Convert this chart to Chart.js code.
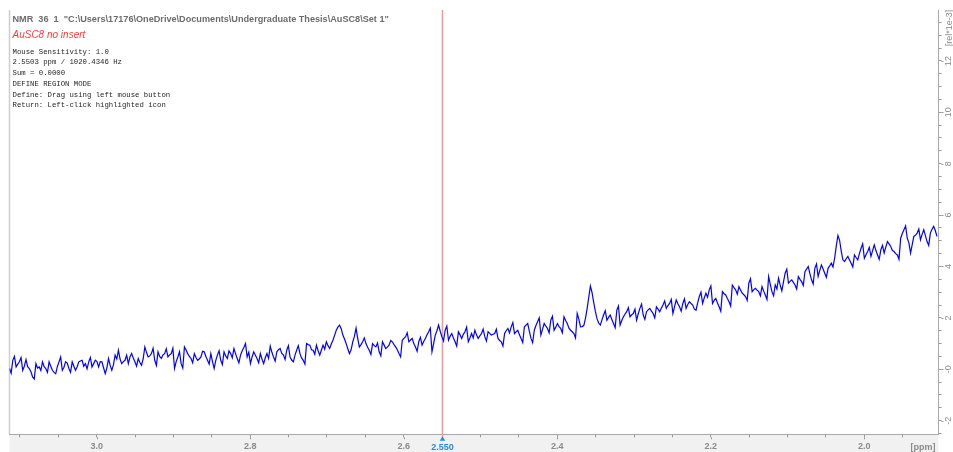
<!DOCTYPE html>
<html>
<head>
<meta charset="utf-8">
<script src="https://cdn.jsdelivr.net/npm/chart.js@4.4.1/dist/chart.umd.min.js"></script>
<style>
  html, body { margin: 0; padding: 0; background: #ffffff; overflow: hidden; }
  canvas { display: block; }
</style>
</head>
<body>
<canvas id="spec" width="953" height="452"></canvas>
<script>
// 1H spectrum slice, chemical shift axis in ppm (high to low, left to right)
const ppmStart = 3.1136;
const ppmStep = 0.00215;

// Intensity in units of rel*1e-3, one value per ppm step
const intensity = [
  0.03, -0.15, 0.35, 0.50, 0.09, 0.20, 0.29, 0.45, -0.04, 0.12, 0.38, 0.10, 0.03, -0.10, -0.30, -0.38, 0.22, 0.05, 0.09, -0.05,
  0.29, 0.10, 0.03, -0.12, 0.29, 0.12, -0.04, -0.12, -0.17, 0.10, 0.29, 0.48, -0.04, 0.08, 0.29, 0.24, 0.03, -0.12, 0.29, 0.12,
  -0.04, 0.10, 0.29, 0.32, 0.35, 0.12, 0.22, 0.02, 0.29, 0.46, 0.09, 0.22, 0.35, 0.30, 0.09, 0.30, 0.29, 0.06, -0.17, 0.05,
  0.42, 0.15, -0.04, 0.18, 0.55, 0.40, 0.74, 0.40, 0.22, 0.30, 0.35, 0.55, 0.22, 0.48, 0.61, 0.44, 0.29, 0.12, 0.42, 0.26,
  0.16, 0.40, 0.87, 0.66, 0.48, 0.52, 0.61, 0.82, 0.35, 0.15, 0.68, 0.50, 0.42, 0.56, 0.61, 0.80, 0.48, 0.56, 0.61, 0.82,
  0.03, 0.30, 0.48, 0.68, 0.22, 0.05, 0.87, 0.75, 0.61, 0.50, 0.42, 0.25, 0.61, 0.46, 0.35, 0.40, 0.48, 0.70, 0.68, 0.50,
  0.35, 0.20, 0.61, 0.30, 0.03, 0.35, 0.55, 0.72, 0.35, 0.18, 0.68, 0.52, 0.42, 0.72, 0.61, 0.45, 0.81, 0.60, 0.42, 0.25,
  0.55, 0.72, 0.85, 1.00, 0.48, 0.66, 0.22, 0.48, 0.68, 0.55, 0.42, 0.25, 0.61, 0.40, 0.22, 0.45, 0.61, 0.42, 0.90, 0.66,
  0.48, 0.32, 0.68, 0.76, 0.81, 0.62, 0.55, 0.38, 0.74, 0.92, 0.48, 0.36, 0.29, 0.55, 0.74, 0.92, 0.61, 0.44, 0.35, 0.20,
  1.00, 0.96, 0.94, 0.76, 0.74, 0.58, 0.94, 0.72, 0.55, 0.75, 0.94, 0.78, 1.07, 0.92, 0.81, 0.98, 1.13, 1.32, 1.52, 1.64,
  1.72, 1.58, 1.33, 1.18, 1.00, 0.80, 0.61, 0.76, 1.07, 1.28, 1.60, 1.20, 0.87, 0.96, 1.07, 1.22, 1.00, 0.86, 0.74, 0.58,
  1.00, 0.92, 0.87, 1.02, 0.68, 0.52, 1.07, 0.94, 0.81, 0.86, 0.94, 1.12, 1.07, 0.96, 0.87, 0.76, 0.61, 0.48, 1.13, 1.20,
  1.27, 1.42, 1.07, 1.14, 1.20, 1.00, 0.87, 0.70, 1.07, 1.24, 0.94, 1.08, 1.20, 1.34, 1.46, 1.60, 0.68, 1.00, 1.33, 1.50,
  1.72, 1.48, 1.27, 1.10, 1.52, 1.68, 1.13, 1.28, 1.39, 1.22, 1.07, 0.90, 1.46, 1.34, 1.20, 1.36, 1.46, 1.64, 1.07, 1.22,
  1.39, 1.22, 1.52, 1.34, 1.20, 1.30, 1.39, 1.56, 1.27, 1.10, 1.46, 1.40, 1.33, 1.36, 1.39, 1.56, 1.20, 1.12, 1.07, 0.90,
  1.39, 1.50, 1.59, 1.42, 1.65, 1.82, 1.39, 1.46, 1.52, 1.34, 1.20, 1.04, 1.65, 1.72, 1.78, 1.48, 1.20, 1.04, 1.52, 1.70,
  1.85, 2.00, 1.33, 1.56, 1.78, 1.68, 1.59, 1.42, 1.91, 2.06, 1.52, 1.64, 1.78, 1.66, 1.59, 1.42, 2.04, 1.90, 1.78, 1.60,
  1.52, 1.46, 1.39, 1.22, 2.17, 1.95, 1.65, 1.66, 1.70, 1.98, 2.35, 2.80, 3.24, 2.98, 2.60, 2.25, 1.97, 1.80, 1.72, 1.92,
  2.11, 2.28, 1.91, 2.02, 2.11, 1.94, 1.78, 1.62, 2.30, 2.46, 1.72, 1.90, 2.04, 2.15, 2.24, 2.40, 2.04, 2.12, 2.17, 2.34,
  1.91, 2.16, 2.37, 2.54, 2.11, 1.94, 2.24, 2.31, 2.37, 2.26, 2.17, 2.00, 2.43, 2.34, 2.24, 2.38, 2.50, 2.66, 2.37, 2.48,
  2.56, 2.72, 2.17, 2.44, 2.70, 2.55, 2.43, 2.26, 2.56, 2.74, 2.37, 2.52, 2.63, 2.56, 2.50, 2.34, 2.30, 2.58, 2.83, 3.00,
  2.56, 2.78, 2.96, 2.80, 3.09, 3.24, 2.56, 2.68, 2.76, 2.58, 2.43, 2.26, 3.02, 2.94, 2.89, 2.75, 2.63, 2.46, 3.28, 3.18,
  3.09, 2.92, 3.22, 3.08, 2.96, 2.90, 2.83, 2.68, 3.35, 3.52, 3.02, 3.10, 3.15, 3.08, 3.02, 2.86, 3.22, 3.04, 2.89, 2.72,
  3.61, 3.30, 3.02, 2.86, 3.28, 3.12, 3.55, 3.28, 3.05, 3.40, 3.74, 3.90, 3.35, 3.42, 3.48, 3.38, 3.28, 3.12, 3.61, 3.50,
  3.41, 3.26, 3.80, 3.90, 4.00, 3.72, 3.48, 3.32, 3.93, 4.10, 3.61, 3.85, 4.06, 3.90, 3.74, 3.58, 3.93, 4.02, 4.13, 3.98,
  4.32, 4.80, 5.21, 5.02, 4.60, 4.26, 4.19, 4.30, 4.39, 4.25, 4.13, 3.98, 4.45, 4.35, 4.26, 4.50, 4.71, 4.88, 4.32, 4.46,
  4.58, 4.74, 4.39, 4.62, 4.84, 4.62, 4.45, 4.28, 4.65, 4.82, 4.52, 4.75, 4.97, 4.88, 4.78, 4.62, 4.58, 4.50, 4.45, 4.28,
  5.10, 5.28, 5.43, 5.58, 5.10, 4.92, 4.52, 4.85, 5.17, 5.22, 5.30, 5.46, 5.04, 5.25, 5.43, 5.20, 4.97, 4.82, 5.30, 5.45,
  5.56, 5.40, 5.17
];

// Visible window
const ppmRange = [1.9033, 3.1136];
const relRange = [-2.53, 13.98];

// Cursor position
const cursorPpm = 2.5503;
const cursorLabel = '2.550';

// Header / status text
const titleText = 'NMR  36  1  "C:\\Users\\17176\\OneDrive\\Documents\\Undergraduate Thesis\\AuSC8\\Set 1"';
const sampleText = 'AuSC8 no insert';
const statusLines = [
  'Mouse Sensitivity: 1.0',
  '2.5503 ppm / 1020.4346 Hz',
  'Sum = 0.0000',
  'DEFINE REGION MODE',
  'Define: Drag using left mouse button',
  'Return: Left-click highlighted icon'
];
const xUnit = '[ppm]';
const yUnit = '[rel*1e-3]';

const points = intensity.map((v, i) => ({ x: +(ppmStart - i * ppmStep).toFixed(5), y: v }));

const axisGrey = '#8a8a8a';

// Grey strip under the plot and the left frame line
const framePlugin = {
  id: 'frame',
  beforeDraw(chart) {
    const { ctx, chartArea: a } = chart;
    ctx.save();
    ctx.fillStyle = '#f1f1f1';
    ctx.fillRect(a.left, a.bottom, a.right - a.left, chart.height - a.bottom);
    ctx.strokeStyle = '#cdcdcd';
    ctx.lineWidth = 1.5;
    ctx.beginPath();
    ctx.moveTo(a.left, a.top);
    ctx.lineTo(a.left, a.bottom);
    ctx.stroke();
    ctx.restore();
  }
};

// Vertical cursor with its marker and value on the ppm axis
const cursorPlugin = {
  id: 'cursor',
  beforeDatasetsDraw(chart) {
    const { ctx, chartArea: a, scales } = chart;
    const x = Math.round(scales.x.getPixelForValue(cursorPpm)) + 0.5;
    ctx.save();
    ctx.strokeStyle = '#f29a9a';
    ctx.lineWidth = 1.6;
    ctx.beginPath();
    ctx.moveTo(x, a.top);
    ctx.lineTo(x, a.bottom + 3);
    ctx.stroke();
    ctx.restore();
  },
  afterDraw(chart) {
    const { ctx, chartArea: a, scales } = chart;
    const x = Math.round(scales.x.getPixelForValue(cursorPpm)) + 0.5;
    ctx.save();
    ctx.fillStyle = '#2a8ad6';
    ctx.beginPath();
    ctx.moveTo(x, a.bottom + 2);
    ctx.lineTo(x + 2.8, a.bottom + 6.5);
    ctx.lineTo(x - 2.8, a.bottom + 6.5);
    ctx.closePath();
    ctx.fill();
    ctx.font = 'bold 9px "Liberation Sans", Arial, sans-serif';
    ctx.textAlign = 'center';
    ctx.textBaseline = 'alphabetic';
    ctx.fillText(cursorLabel, x, a.bottom + 16);
    ctx.restore();
  }
};

function isMajorX(v) { return Math.abs(v * 5 - Math.round(v * 5)) < 1e-6; }
function isMajorY(v) { return Math.abs(v / 2 - Math.round(v / 2)) < 1e-6; }
// intensity labels; the zero line carries a minus sign as in the status display
function yTickText(v) {
  const n = Math.round(v);
  return n === 0 ? '-0' : String(n);
}

// Titles, status block, axis units and the longer marks on labelled ticks
const textPlugin = {
  id: 'texts',
  afterDatasetsDraw(chart) {
    const { ctx, chartArea: a, scales } = chart;
    ctx.save();
    ctx.strokeStyle = '#9a9a9a';
    ctx.lineWidth = 1;
    scales.x.ticks.forEach(t => {
      if (isMajorX(t.value)) {
        const x = Math.round(scales.x.getPixelForValue(t.value)) + 0.5;
        ctx.beginPath(); ctx.moveTo(x, a.bottom + 3); ctx.lineTo(x, a.bottom + 5); ctx.stroke();
      }
    });
    scales.y.ticks.forEach(t => {
      if (isMajorY(t.value)) {
        const y = Math.round(scales.y.getPixelForValue(t.value)) + 0.5;
        ctx.beginPath(); ctx.moveTo(a.right + 3, y); ctx.lineTo(a.right + 5, y); ctx.stroke();
      }
    });
    ctx.restore();
  },
  afterDraw(chart) {
    const { ctx, chartArea: a } = chart;
    ctx.save();
    ctx.textAlign = 'left';
    ctx.textBaseline = 'alphabetic';
    ctx.fillStyle = '#6c6c6c';
    ctx.font = 'bold 9.15px "Liberation Sans", Arial, sans-serif';
    ctx.fillText(titleText, 12.5, 21.5);

    ctx.fillStyle = '#ff3d3d';
    ctx.font = 'italic 10px "Liberation Sans", Arial, sans-serif';
    ctx.fillText(sampleText, 12.5, 37.5);

    ctx.fillStyle = '#262626';
    ctx.font = '7.3px "Liberation Mono", "DejaVu Sans Mono", monospace';
    statusLines.forEach((s, i) => ctx.fillText(s, 12.5, 53.7 + i * 10.7));

    ctx.fillStyle = axisGrey;
    ctx.font = 'bold 9px "Liberation Sans", Arial, sans-serif';
    ctx.textAlign = 'center';
    ctx.fillText(xUnit, 923, a.bottom + 16);

    ctx.font = '9px "Liberation Sans", Arial, sans-serif';
    ctx.translate(949.5, 28);
    ctx.rotate(-Math.PI / 2);
    ctx.textBaseline = 'middle';
    ctx.fillText(yUnit, 0, 0);
    ctx.restore();
  }
};

new Chart(document.getElementById('spec'), {
  type: 'line',
  data: {
    datasets: [{
      data: points,
      borderColor: '#0000ff',
      borderWidth: 1.2,
      pointRadius: 0,
      tension: 0,
      fill: false
    }]
  },
  options: {
    responsive: false,
    animation: false,
    devicePixelRatio: 1,
    parsing: false,
    normalized: true,
    layout: { padding: { left: 9.5, top: 10, right: 0, bottom: 0 } },
    plugins: { legend: { display: false }, tooltip: { enabled: false }, title: { display: false } },
    scales: {
      x: {
        type: 'linear',
        reverse: true,
        min: ppmRange[0],
        max: ppmRange[1],
        position: 'bottom',
        afterFit(s) { s.height = 17.7; },
        grid: { drawOnChartArea: false, drawTicks: true, tickLength: 3, color: '#9a9a9a' },
        border: { display: true, color: '#a9a9a9', width: 1 },
        ticks: {
          stepSize: 0.05,
          autoSkip: false,
          includeBounds: false,
          minRotation: 0,
          maxRotation: 0,
          padding: 4,
          color: axisGrey,
          font: { family: '"Liberation Sans", Arial, sans-serif', size: 9, weight: 'bold' },
          callback: v => isMajorX(v) ? v.toFixed(1) : ''
        }
      },
      y: {
        type: 'linear',
        position: 'right',
        min: relRange[0],
        max: relRange[1],
        afterFit(s) { s.width = 14.5; },
        grid: { drawOnChartArea: false, drawTicks: true, tickLength: 3, color: '#9a9a9a' },
        border: { display: true, color: '#a9a9a9', width: 1 },
        ticks: {
          stepSize: 0.5,
          autoSkip: false,
          includeBounds: false,
          minRotation: 90,
          maxRotation: 90,
          crossAlign: 'center',
          padding: 2,
          color: axisGrey,
          font: { family: '"Liberation Sans", Arial, sans-serif', size: 9 },
          callback: v => isMajorY(v) ? yTickText(v) : ''
        }
      }
    }
  },
  plugins: [framePlugin, cursorPlugin, textPlugin]
});
</script>
</body>
</html>
